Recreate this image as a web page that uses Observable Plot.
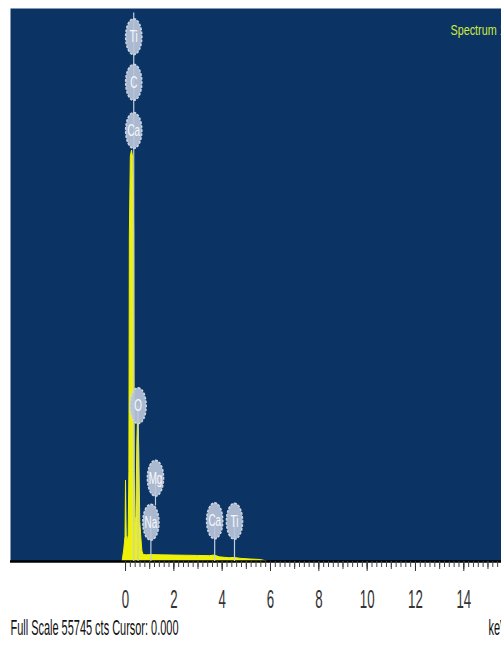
<!DOCTYPE html>
<html>
<head>
<meta charset="utf-8">
<script src="https://cdn.jsdelivr.net/npm/d3@7"></script>
<script src="https://cdn.jsdelivr.net/npm/@observablehq/plot@0.6"></script>
<style>
  html, body { margin: 0; padding: 0; background: #fff; overflow: hidden; width: 501px; height: 652px; }
</style>
</head>
<body>
<div id="chart"></div>
<script>
// EDS spectrum: energy (keV) and counts
const spectrumEnergy = [-0.12, -0.05, 0.0, 0.02, 0.05, 0.09, 0.13, 0.16, 0.18, 0.22, 0.27, 0.32, 0.36, 0.38, 0.41, 0.45, 0.49, 0.53, 0.57, 0.61, 0.66, 0.70, 0.75, 0.9, 1.04, 1.25, 1.5, 2.0, 2.5, 3.0, 3.5, 3.69, 3.9, 4.3, 4.51, 4.8, 5.2, 5.6, 5.85];
const spectrumCounts = [0, 1200, 2500, 8165, 2600, 2000, 2600, 9000, 33000, 40800, 41430, 40600, 33000, 9000, 3800, 4500, 12000, 15600, 11000, 4000, 2200, 1000, 650, 620, 650, 640, 620, 600, 580, 560, 540, 600, 420, 330, 360, 260, 200, 150, 0];

// Element identification markers
const markerElements = ["Ti", "C", "Ca", "O", "Mg", "Na", "Ca", "Ti"];
const markerEnergy   = [0.34, 0.34, 0.34, 0.52, 1.24, 1.05, 3.69, 4.51];
const markerCounts   = [52900, 48300, 43450, 15700, 8400, 3950, 4100, 4050];

// Marker stems (top and bottom in counts)
const stemEnergy = [0.34, 0.52, 1.24, 1.05, 3.69, 4.51];
const stemTop    = [55300, 15700, 8400, 3950, 4100, 4050];
const stemBottom = [0, 0, 5600, 0, 0, 0];

// Axis ticks
const majorTicks = [0, 2, 4, 6, 8, 10, 12, 14];
const midTicks = d3.range(0, 16);
const minorTicks = d3.range(0, 78).map(i => i / 5);

const fullScale = 55745;
const captionText = "Full Scale 55745 cts Cursor: 0.000";
const unitText = "keV";
const spectrumName = "Spectrum 1";

const spectrum = spectrumEnergy.map((e, i) => ({energy: e, counts: spectrumCounts[i]}));
const markers = markerElements.map((el, i) => ({element: el, energy: markerEnergy[i], counts: markerCounts[i]}));
const stems = stemEnergy.map((e, i) => ({energy: e, top: stemTop[i], bottom: stemBottom[i]}));

// Tall ellipse symbol for the element tags
const tagSymbol = {
  draw(ctx, size) {
    const r = Math.sqrt(size / Math.PI);
    const rx = r * 0.45, ry = r, k = 0.5523;
    ctx.moveTo(0, -ry);
    ctx.bezierCurveTo(k * rx, -ry, rx, -k * ry, rx, 0);
    ctx.bezierCurveTo(rx, k * ry, k * rx, ry, 0, ry);
    ctx.bezierCurveTo(-k * rx, ry, -rx, k * ry, -rx, 0);
    ctx.bezierCurveTo(-rx, -k * ry, -k * rx, -ry, 0, -ry);
    ctx.closePath();
  }
};

const chart = Plot.plot({
  width: 501,
  height: 652,
  marginLeft: 10,
  marginRight: 0,
  marginTop: 8,
  marginBottom: 91,
  style: {fontFamily: "'Liberation Sans', Arial, sans-serif", background: "#fff", overflow: "visible"},
  x: {domain: [-4.76, 15.56]},
  y: {domain: [0, fullScale], axis: null},
  marks: [
    Plot.frame({fill: "#0b3464", stroke: null}),
    Plot.areaY(spectrum, {x: "energy", y: "counts", fill: "#eef20a", stroke: "#eef20a", strokeWidth: 1}),
    Plot.ruleY([0], {stroke: "#000", strokeWidth: 2.5}),
    Plot.ruleX(stems, {x: "energy", y1: "bottom", y2: "top", stroke: "#c3cddc", strokeWidth: 1.2}),
    Plot.dot(markers, {x: "energy", y: "counts", r: 18, symbol: tagSymbol, fill: "#b8c4d8", fillOpacity: 0.93, stroke: "#cfd8e5", strokeWidth: 1.5, strokeDasharray: "2.5 1.5"}),
    Plot.text(markers, {x: "energy", y: "counts", text: "element", fill: "#f7f9fc", fontSize: 17}),
    Plot.axisX(minorTicks, {tickSize: 6, tickFormat: () => "", color: "#444", label: null}),
    Plot.axisX(midTicks, {tickSize: 8, tickFormat: () => "", color: "#444", label: null}),
    Plot.axisX(majorTicks, {tickSize: 10, tickPadding: 19, fontSize: 25, color: "#333", label: null}),
    Plot.text([spectrumName], {frameAnchor: "top-left", dx: 440, dy: 16, textAnchor: "start", fill: "#d2ea3e", fontSize: 15}),
    Plot.text([captionText], {frameAnchor: "bottom-left", dy: 73, textAnchor: "start", fill: "#111", fontSize: 22}),
    Plot.text([unitText], {frameAnchor: "bottom-right", dx: -13, dy: 73, textAnchor: "start", fill: "#111", fontSize: 22})
  ]
});

document.getElementById("chart").appendChild(chart);

// Narrow the lettering horizontally
function condense(test, factor, fixed) {
  d3.select(chart).selectAll("text").each(function () {
    const s = this.textContent;
    if (!s || !test(s)) return;
    const w = this.getComputedTextLength();
    if (w > 0) {
      this.setAttribute("textLength", String(fixed != null ? fixed : w * factor));
      this.setAttribute("lengthAdjust", "spacingAndGlyphs");
    }
  });
}
const majorLabels = new Set(majorTicks.map(String));
const elementNames = new Set(markerElements);
condense(s => majorLabels.has(s), 0.53);
condense(s => elementNames.has(s), 0.58);
condense(s => s === spectrumName, 0.72);
condense(s => s === captionText, 1, 168);
condense(s => s === unitText, 0.5);
</script>
</body>
</html>
